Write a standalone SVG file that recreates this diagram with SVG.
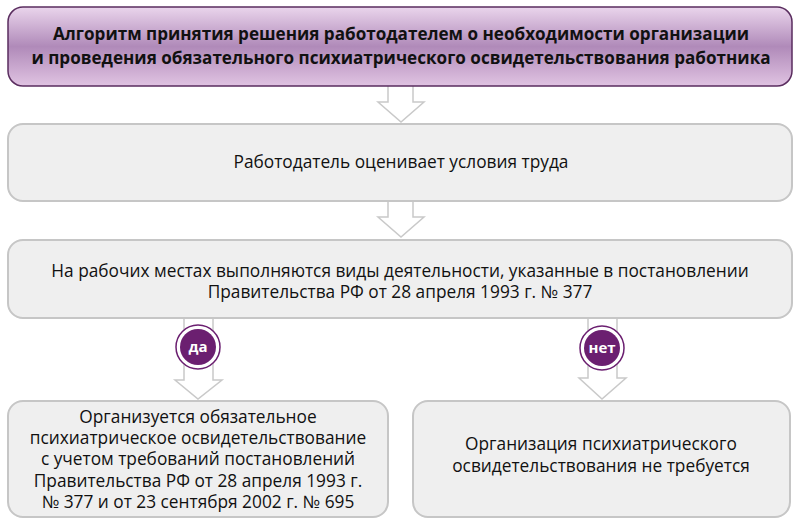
<svg xmlns="http://www.w3.org/2000/svg" width="800" height="524" viewBox="0 0 800 524">
<defs>
<linearGradient id="tg" x1="0" y1="0" x2="0" y2="1">
<stop offset="0" stop-color="#ead5ec"/>
<stop offset="0.5" stop-color="#b08ab9"/>
<stop offset="1" stop-color="#e0c3e2"/>
</linearGradient>
<style>
.box{fill:#efefef;stroke:#c6c6c6;stroke-width:2}
.t{font-family:"Open Sans","Noto Sans","Liberation Sans",sans-serif;font-size:17.3px;fill:#111;text-anchor:middle}
.tb{font-family:"Open Sans","Noto Sans","Liberation Sans",sans-serif;font-size:17.1px;font-weight:bold;fill:#111;text-anchor:middle}
.arr{fill:#fff;stroke:#c9c9c9;stroke-width:1.5;stroke-linejoin:miter}
.ring{fill:#fff;stroke:#6b1f70;stroke-width:1.5}
.dot{fill:#6b1f70}
.lab{font-family:"Open Sans","Noto Sans","Liberation Sans",sans-serif;font-size:15px;font-weight:bold;fill:#fff;text-anchor:middle}
</style>
</defs>
<rect width="800" height="524" fill="#fff"/>
<g id="connectors">
<path class="arr" d="M388,86 V102 H378 L401,122 L424,102 H413 V86"/>
<path class="arr" d="M388,201 V217 H378 L401,237 L424,217 H413 V201"/>
<path class="arr" d="M184,318 V380 H175 L198,399 L222,380 H213 V318"/>
<path class="arr" d="M588,318 V378 H579 L602,399 L626,378 H617 V318"/>
</g>
<g id="title">
<rect x="8" y="7" width="784" height="79" rx="15" fill="url(#tg)" stroke="#5a2d5f" stroke-width="1.5"/>
<text class="tb" x="401" y="40">Алгоритм принятия решения работодателем о необходимости организации</text>
<text class="tb" x="401" y="64">и проведения обязательного психиатрического освидетельствования работника</text>
</g>
<g id="n1">
<rect class="box" x="8" y="124" width="784" height="77" rx="15"/>
<text class="t" x="401" y="168">Работодатель оценивает условия труда</text>
</g>
<g id="n2">
<rect class="box" x="8" y="240" width="784" height="78" rx="15"/>
<text class="t" x="400" y="277">На рабочих местах выполняются виды деятельности, указанные в постановлении</text>
<text class="t" x="400" y="298">Правительства РФ от 28 апреля 1993 г. № 377</text>
</g>
<g id="yes">
<circle class="ring" cx="198" cy="347" r="22"/>
<circle class="dot" cx="198" cy="347" r="18"/>
<text class="lab" x="198" y="352">да</text>
</g>
<g id="no">
<circle class="ring" cx="602" cy="348" r="22"/>
<circle class="dot" cx="602" cy="348" r="18"/>
<text class="lab" x="602" y="353">нет</text>
</g>
<g id="n3">
<rect class="box" x="8" y="401" width="380" height="116" rx="15"/>
<text class="t" x="198" y="423">Организуется обязательное</text>
<text class="t" x="198" y="444">психиатрическое освидетельствование</text>
<text class="t" x="198" y="465">с учетом требований постановлений</text>
<text class="t" x="198" y="487">Правительства РФ от 28 апреля 1993 г.</text>
<text class="t" x="198" y="508">№ 377 и от 23 сентября 2002 г. № 695</text>
</g>
<g id="n4">
<rect class="box" x="413" y="401" width="377" height="116" rx="15"/>
<text class="t" x="601" y="450">Организация психиатрического</text>
<text class="t" x="601" y="472">освидетельствования не требуется</text>
</g>
</svg>
